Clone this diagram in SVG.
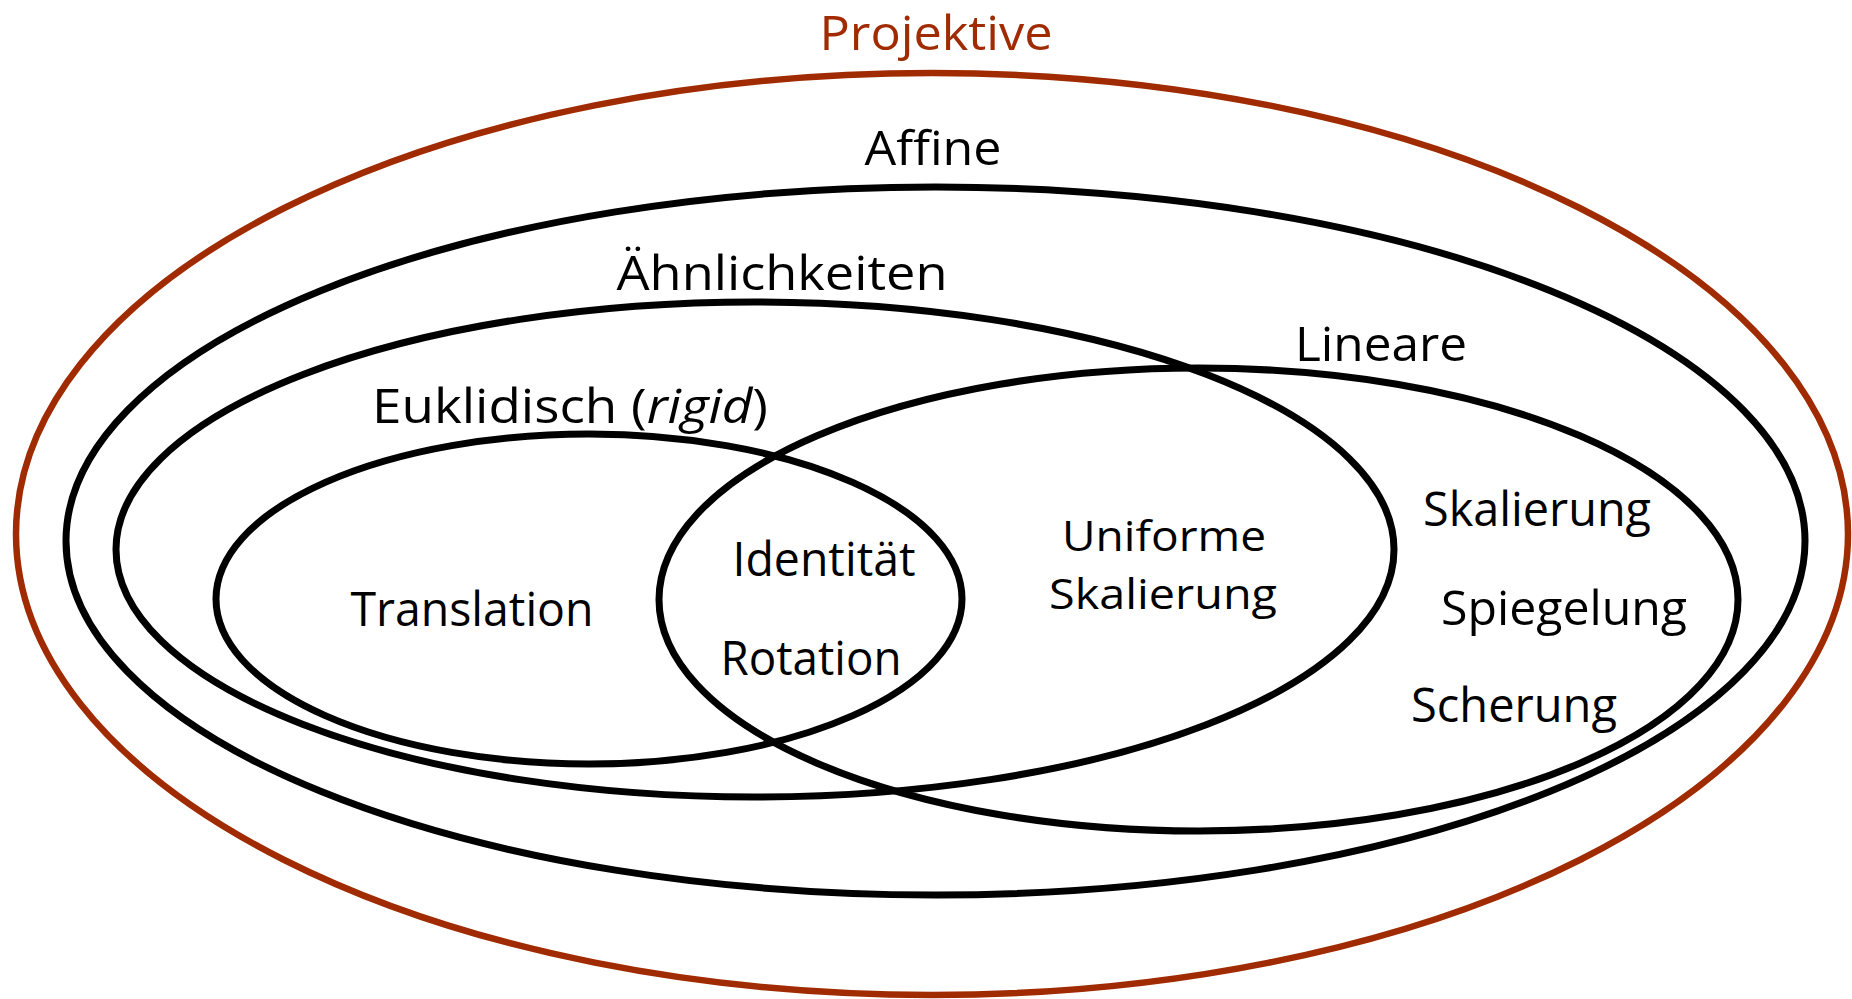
<svg xmlns="http://www.w3.org/2000/svg" width="1852" height="999" viewBox="0 0 1852 999">
<style>
.set{fill:none;stroke:#000;stroke-width:7}
.proj{fill:none;stroke:#a02b00;stroke-width:6.5}
text{font-family:"Open Sans","Noto Sans","Liberation Sans",sans-serif;font-size:48px;fill:#000;text-anchor:middle}
.red{fill:#a02b00}
.tight{font-size:42px}
</style>
<rect width="1852" height="999" fill="#fff"/>
<g id="projektive">
<ellipse class="proj" cx="932" cy="534" rx="916" ry="461"/>
<text class="red" x="936" y="50" textLength="233" lengthAdjust="spacingAndGlyphs">Projektive</text>
</g>
<g id="affine">
<ellipse class="set" cx="935.5" cy="541" rx="869.5" ry="354"/>
<text x="933" y="165" textLength="137" lengthAdjust="spacingAndGlyphs">Affine</text>
</g>
<g id="aehnlichkeiten">
<ellipse class="set" cx="755" cy="549.5" rx="639" ry="247.5"/>
<text x="782" y="290" textLength="331" lengthAdjust="spacingAndGlyphs">Ähnlichkeiten</text>
</g>
<g id="lineare">
<ellipse class="set" cx="1198.5" cy="599.5" rx="539.5" ry="231.5"/>
<text x="1381" y="361" textLength="172" lengthAdjust="spacingAndGlyphs">Lineare</text>
</g>
<g id="euklidisch">
<ellipse class="set" cx="589" cy="599" rx="373" ry="165"/>
<text x="570" y="423" textLength="396" lengthAdjust="spacingAndGlyphs">Euklidisch (<tspan font-style="italic">rigid</tspan>)</text>
</g>
<g id="labels">
<text x="472" y="626" textLength="243" lengthAdjust="spacingAndGlyphs">Translation</text>
<text x="824" y="576" textLength="183" lengthAdjust="spacingAndGlyphs">Identität</text>
<text x="811" y="675" textLength="181" lengthAdjust="spacingAndGlyphs">Rotation</text>
<text class="tight" x="1164" y="551" textLength="204" lengthAdjust="spacingAndGlyphs">Uniforme</text>
<text class="tight" x="1163" y="609" textLength="228" lengthAdjust="spacingAndGlyphs">Skalierung</text>
<text x="1537" y="526" textLength="228" lengthAdjust="spacingAndGlyphs">Skalierung</text>
<text x="1564" y="625" textLength="246" lengthAdjust="spacingAndGlyphs">Spiegelung</text>
<text x="1514" y="722" textLength="206" lengthAdjust="spacingAndGlyphs">Scherung</text>
</g>
<g id="connectors"/>
</svg>
